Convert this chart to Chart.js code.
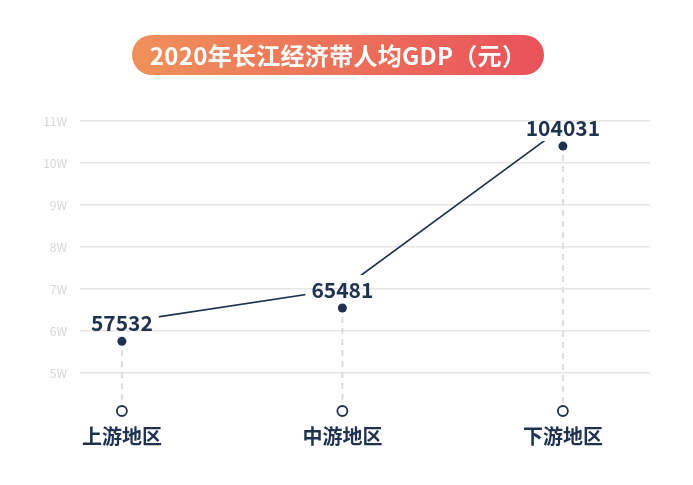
<!DOCTYPE html>
<html>
<head>
<meta charset="utf-8">
<script src="https://cdn.jsdelivr.net/npm/chart.js@4"></script>
<style>
  body { margin: 0; background: #fff; }
  #wrap { position: relative; width: 693px; height: 485px; }
  #title {
    position: absolute; left: 132px; top: 35px; width: 412px; height: 40px;
    border-radius: 20px;
    background: linear-gradient(90deg, #f0915a, #e9525a);
    color: #fff; font: bold 24px "Noto Sans CJK SC", sans-serif;
    line-height: 40px; text-align: center; letter-spacing: 0.3px;
  }
</style>
</head>
<body>
<div id="wrap">
  <canvas id="c" width="693" height="485"></canvas>
  <div id="title">2020年长江经济带人均GDP（元）</div>
</div>
<script>
// data
const regions = ['上游地区', '中游地区', '下游地区'];
const gdpPerCapita = [57532, 65481, 104031];
const yTicks = [50000, 60000, 70000, 80000, 90000, 100000, 110000];
const yTickLabels = ['5W', '6W', '7W', '8W', '9W', '10W', '11W'];

const navy = '#1e3250';
const points = gdpPerCapita.map((v, i) => ({ x: i, y: v }));

const LABEL_LIFT = 19;
const labelFont = 'bold 21px "Noto Sans CJK SC", sans-serif';

// boxes round the value labels, the joining line stops at them
function labelBoxes(chart) {
  const ctx = chart.ctx;
  ctx.save();
  ctx.font = labelFont;
  const boxes = chart.getDatasetMeta(1).data.map((pt, i) => {
    const w = ctx.measureText(String(gdpPerCapita[i])).width;
    const cy = pt.y - LABEL_LIFT;
    return { x: pt.x - w / 2 - 6, y: cy - 14, w: w + 12, h: 28, cx: pt.x, cy: cy };
  });
  ctx.restore();
  return boxes;
}

const deco = {
  id: 'deco',
  beforeDatasetDraw(chart, args) {
    if (args.index !== 0) return;
    const ctx = chart.ctx;
    ctx.save();
    ctx.beginPath();
    ctx.rect(0, 0, chart.width, chart.height);
    labelBoxes(chart).forEach(b => ctx.rect(b.x, b.y, b.w, b.h));
    ctx.clip('evenodd');
    ctx.translate(0, -LABEL_LIFT);
  },
  afterDatasetDraw(chart, args) {
    if (args.index !== 0) return;
    chart.ctx.restore();
  },
  beforeDatasetsDraw(chart) {
    // dashed drop lines and hollow markers on the axis
    const ctx = chart.ctx;
    const bottom = chart.chartArea.bottom;
    const pts = chart.getDatasetMeta(1).data;
    ctx.save();
    pts.forEach((pt, i) => {
      ctx.strokeStyle = '#dcdcdc';
      ctx.lineWidth = 2;
      ctx.setLineDash([6, 5]);
      ctx.beginPath();
      ctx.moveTo(pt.x, pt.y + 9);
      ctx.lineTo(pt.x, bottom + 30);
      ctx.stroke();
      ctx.setLineDash([]);
      ctx.beginPath();
      ctx.arc(pt.x, bottom + 38, 5, 0, Math.PI * 2);
      ctx.fillStyle = '#fff';
      ctx.fill();
      ctx.strokeStyle = navy;
      ctx.lineWidth = 1.8;
      ctx.stroke();

      ctx.fillStyle = navy;
      ctx.font = 'bold 20px "Noto Sans CJK SC", sans-serif';
      ctx.textAlign = 'center';
      ctx.textBaseline = 'middle';
      ctx.fillText(regions[i], pt.x, bottom + 63);
    });
    ctx.restore();
  },
  afterDatasetsDraw(chart) {
    const ctx = chart.ctx;
    ctx.save();
    ctx.font = labelFont;
    ctx.fillStyle = navy;
    ctx.textAlign = 'center';
    ctx.textBaseline = 'middle';
    labelBoxes(chart).forEach((b, i) => {
      ctx.fillText(String(gdpPerCapita[i]), b.cx, b.cy + 1);
    });
    ctx.restore();
  }
};

new Chart(document.getElementById('c'), {
  type: 'line',
  data: {
    datasets: [
      {
        data: points,
        borderColor: navy,
        borderWidth: 1.7,
        pointRadius: 0,
        tension: 0,
        fill: false
      },
      {
        data: points,
        showLine: false,
        pointRadius: 4.5,
        pointHoverRadius: 4.5,
        pointBackgroundColor: navy,
        pointBorderWidth: 0
      }
    ]
  },
  options: {
    responsive: false,
    animation: false,
    layout: { padding: { top: 121, right: 43, bottom: 112, left: 0 } },
    plugins: { legend: { display: false }, tooltip: { enabled: false } },
    scales: {
      x: {
        type: 'linear',
        display: false,
        min: -0.19,
        max: 2.395
      },
      y: {
        min: 50000,
        max: 110000,
        afterFit(scale) { scale.width = 80; },
        afterBuildTicks(scale) { scale.ticks = yTicks.map(v => ({ value: v })); },
        border: { display: false },
        grid: { color: '#e6e6e6', lineWidth: 1.5, drawTicks: false },
        ticks: {
          padding: 13,
          color: '#d6d6d6',
          font: { family: '"Noto Sans CJK SC", sans-serif', size: 12 },
          callback: (v, i) => yTickLabels[i]
        }
      }
    }
  },
  plugins: [deco]
});
</script>
</body>
</html>
